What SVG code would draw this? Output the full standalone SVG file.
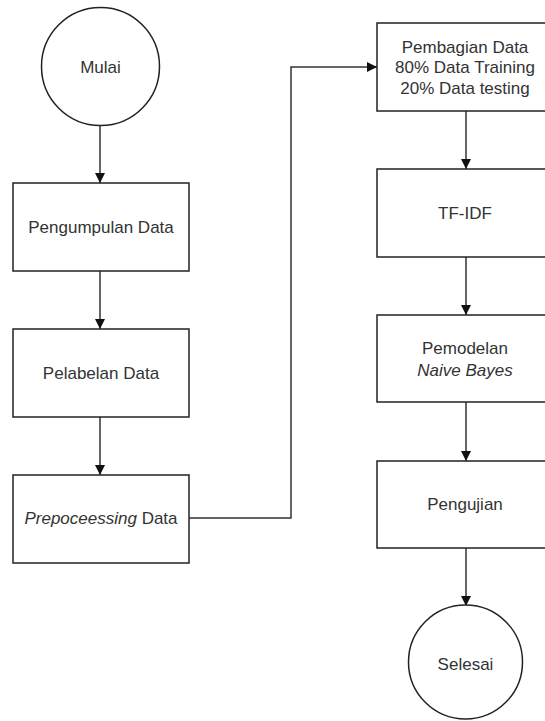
<svg xmlns="http://www.w3.org/2000/svg" width="545" height="721" viewBox="0 0 545 721">
<style>
.shape{fill:#fff;stroke:#222;stroke-width:1.5}
.lbl{font-family:"Liberation Sans",Arial,sans-serif;font-size:17px;fill:#333;text-anchor:middle;dominant-baseline:central}
.edge{fill:none;stroke:#333;stroke-width:1.5}
</style>
<defs>
<marker id="arr" viewBox="0 0 10 10" refX="10" refY="5" markerWidth="10" markerHeight="10" markerUnits="userSpaceOnUse" orient="auto">
<path d="M0,0 L10,5 L0,10 Z" fill="#111"/>
</marker>
</defs>
<rect width="545" height="721" fill="#fff"/>
<g id="connectors">
<line class="edge" x1="100" y1="126" x2="100" y2="183" marker-end="url(#arr)"/>
<line class="edge" x1="100" y1="271" x2="100" y2="329" marker-end="url(#arr)"/>
<line class="edge" x1="100" y1="417" x2="100" y2="475" marker-end="url(#arr)"/>
<polyline class="edge" points="189,518 291,518 291,67 377,67" marker-end="url(#arr)"/>
<line class="edge" x1="466" y1="111" x2="466" y2="169" marker-end="url(#arr)"/>
<line class="edge" x1="466" y1="257" x2="466" y2="315" marker-end="url(#arr)"/>
<line class="edge" x1="466" y1="402" x2="466" y2="461" marker-end="url(#arr)"/>
<line class="edge" x1="466" y1="548" x2="466" y2="606" marker-end="url(#arr)"/>
</g>
<g id="mulai">
<circle class="shape" cx="100.5" cy="66.5" r="59"/>
<text class="lbl" x="100.5" y="67">Mulai</text>
</g>
<g id="pengumpulan">
<rect class="shape" x="13" y="183" width="176" height="88"/>
<text class="lbl" x="101" y="227">Pengumpulan Data</text>
</g>
<g id="pelabelan">
<rect class="shape" x="13" y="329" width="176" height="88"/>
<text class="lbl" x="101" y="373">Pelabelan Data</text>
</g>
<g id="preprocessing">
<rect class="shape" x="13" y="475" width="176" height="88"/>
<text class="lbl" x="101" y="518"><tspan font-style="italic">Prepoceessing</tspan> Data</text>
</g>
<g id="pembagian">
<rect class="shape" x="377" y="23" width="176" height="88"/>
<text class="lbl" x="465" y="47">Pembagian Data</text>
<text class="lbl" x="465" y="67.5">80% Data Training</text>
<text class="lbl" x="465" y="88">20% Data testing</text>
</g>
<g id="tfidf">
<rect class="shape" x="377" y="169" width="176" height="88"/>
<text class="lbl" x="465" y="213">TF-IDF</text>
</g>
<g id="pemodelan">
<rect class="shape" x="377" y="315" width="176" height="87"/>
<text class="lbl" x="465" y="348">Pemodelan</text>
<text class="lbl" x="465" y="370" font-style="italic">Naive Bayes</text>
</g>
<g id="pengujian">
<rect class="shape" x="377" y="461" width="176" height="87"/>
<text class="lbl" x="465" y="504">Pengujian</text>
</g>
<g id="selesai">
<circle class="shape" cx="465.5" cy="662" r="57"/>
<text class="lbl" x="465.5" y="664">Selesai</text>
</g>
</svg>
